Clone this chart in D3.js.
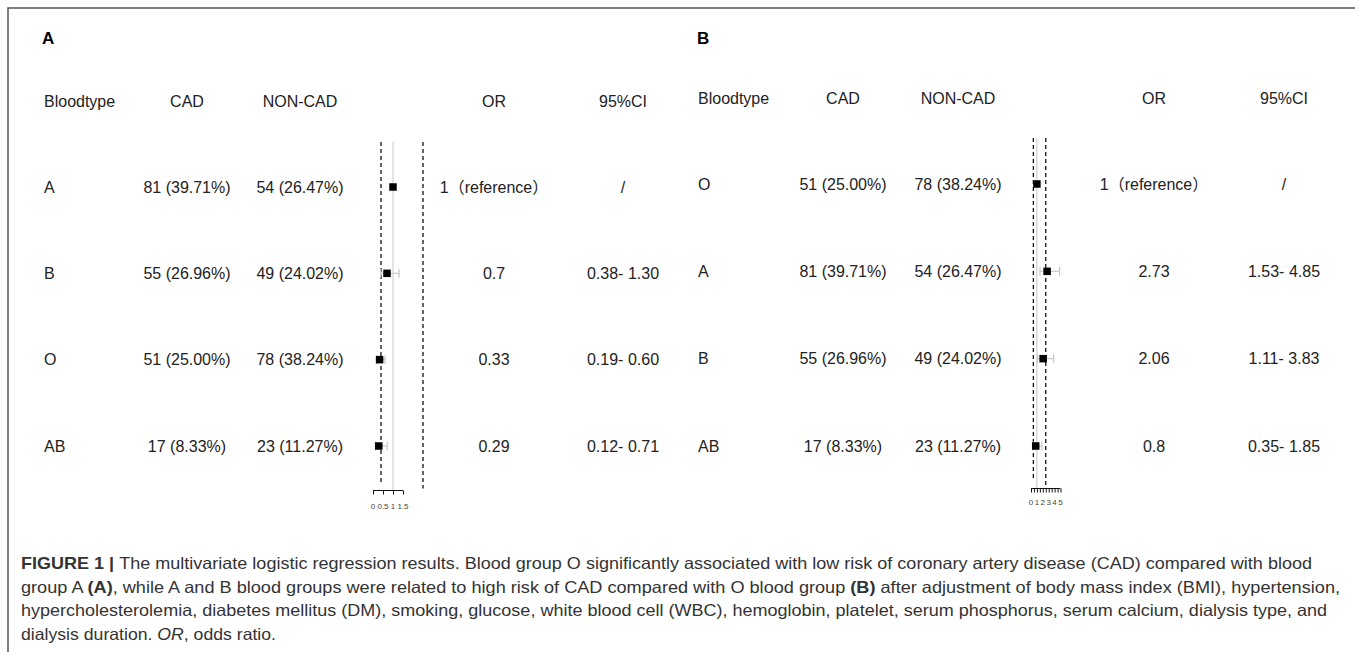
<!DOCTYPE html>
<html>
<head>
<meta charset="utf-8">
<script src="https://cdn.jsdelivr.net/npm/d3@7"></script>
<style>
body { margin: 0; background: #fff; }
text { font-family: "Liberation Sans", Arial, "Noto Sans CJK SC", sans-serif; fill: #222; }
</style>
</head>
<body>
<script>
// ---- data ----
var headers = ["Bloodtype", "CAD", "NON-CAD", "OR", "95%CI"];

var typesA = ["A", "B", "O", "AB"];
var cadA = ["81 (39.71%)", "55 (26.96%)", "51 (25.00%)", "17 (8.33%)"];
var nonA = ["54 (26.47%)", "49 (24.02%)", "78 (38.24%)", "23 (11.27%)"];
var orA = [1, 0.7, 0.33, 0.29];
var loA = [null, 0.38, 0.19, 0.12];
var hiA = [null, 1.30, 0.60, 0.71];
var orTextA = ["1（reference）", "0.7", "0.33", "0.29"];
var ciTextA = ["/", "0.38- 1.30", "0.19- 0.60", "0.12- 0.71"];
var ticksA = [0, 0.5, 1, 1.5];
var tickLabelsA = ["0", "0.5", "1", "1.5"];

var typesB = ["O", "A", "B", "AB"];
var cadB = ["51 (25.00%)", "81 (39.71%)", "55 (26.96%)", "17 (8.33%)"];
var nonB = ["78 (38.24%)", "54 (26.47%)", "49 (24.02%)", "23 (11.27%)"];
var orB = [1, 2.73, 2.06, 0.8];
var loB = [null, 1.53, 1.11, 0.35];
var hiB = [null, 4.85, 3.83, 1.85];
var orTextB = ["1（reference）", "2.73", "2.06", "0.8"];
var ciTextB = ["/", "1.53- 4.85", "1.11- 3.83", "0.35- 1.85"];
var ticksB = [0, 0.5, 1, 1.5, 2, 2.5, 3, 3.5, 4, 4.5, 5];
var tickLabelsB = ["0", "1", "2", "3", "4", "5"];

// reference lines: solid at OR = 1, dashed guide lines
var refLine = 1;
var dashLines = [0.4, 2.5];

var svg = d3.select("body").append("svg")
.attr("width", 1355)
.attr("height", 652);

// figure frame (top + left)
svg.append("path")
.attr("d", "M8,652V8H1355")
.attr("fill", "none")
.attr("stroke", "#555")
.attr("stroke-width", 1.5);

function panel(o) {
  var g = svg.append("g");
  var x = d3.scaleLinear().domain(o.domain).range(o.range);
  var y = d3.scalePoint().domain(d3.range(o.types.length)).range(o.rows);

  g.append("text")
  .attr("x", o.labelX).attr("y", 38)
  .attr("dominant-baseline", "central")
  .attr("font-weight", "bold")
  .attr("font-size", 17)
  .style("fill", "#000")
  .text(o.label);

  // header row
  g.selectAll(".hd").data(headers).enter().append("text")
  .attr("x", function(d, i) { return o.cols[i]; })
  .attr("y", o.headY)
  .attr("dominant-baseline", "central")
  .attr("text-anchor", function(d, i) { return i == 0 ? "start" : "middle"; })
  .attr("font-size", 16)
  .text(function(d) { return d; });

  var cols = [o.types, o.cad, o.non, o.orText, o.ciText];
  cols.forEach(function(col, c) {
    g.selectAll(".c" + c).data(col).enter().append("text")
    .attr("x", o.cols[c])
    .attr("y", function(d, i) { return y(i); })
    .attr("dominant-baseline", "central")
    .attr("text-anchor", c == 0 ? "start" : "middle")
    .attr("font-size", 16)
    .text(function(d) { return d; });
  });

  // solid reference line
  g.append("line")
  .attr("x1", x(refLine)).attr("x2", x(refLine))
  .attr("y1", o.top).attr("y2", o.axisY)
  .attr("stroke", "#c8c8c8")
  .attr("stroke-width", 1);

  // dashed guide lines
  g.selectAll(".dash").data(dashLines).enter().append("line")
  .attr("x1", function(d) { return x(d); })
  .attr("x2", function(d) { return x(d); })
  .attr("y1", o.top)
  .attr("y2", function(d, i) { return i == 0 ? o.axisY - 8 : o.axisY - 2; })
  .attr("stroke", "#111")
  .attr("stroke-width", 1.3)
  .attr("stroke-dasharray", "4,3");

  // confidence intervals
  var ci = o.lo.map(function(d, i) { return { lo: d, hi: o.hi[i], i: i }; })
  .filter(function(d) { return d.lo != null; });

  g.selectAll(".ci").data(ci).enter().append("line")
  .attr("x1", function(d) { return x(d.lo); })
  .attr("x2", function(d) { return x(d.hi); })
  .attr("y1", function(d) { return y(d.i); })
  .attr("y2", function(d) { return y(d.i); })
  .attr("stroke", "#c8c8c8")
  .attr("stroke-width", 1.2);

  ["lo", "hi"].forEach(function(k) {
    g.selectAll(".cap" + k).data(ci).enter().append("line")
    .attr("x1", function(d) { return x(d[k]); })
    .attr("x2", function(d) { return x(d[k]); })
    .attr("y1", function(d) { return y(d.i) - 4.5; })
    .attr("y2", function(d) { return y(d.i) + 4.5; })
    .attr("stroke", "#c8c8c8")
    .attr("stroke-width", 1.2);
  });

  // point estimates
  g.selectAll(".pt").data(o.or).enter().append("rect")
  .attr("x", function(d) { return x(d) - 3.75; })
  .attr("y", function(d, i) { return y(i) - 3.75; })
  .attr("width", 7.5)
  .attr("height", 7.5)
  .attr("fill", "#000");

  // axis
  var axis = d3.axisBottom(x)
  .tickValues(o.ticks)
  .tickSize(4)
  .tickFormat("");
  var ax = g.append("g")
  .attr("transform", "translate(0," + o.axisY + ")")
  .call(axis);
  ax.select(".domain").attr("d", "M" + o.range[0] + ",0H" + o.range[1]).attr("stroke", "#111");
  ax.selectAll(".tick line").attr("stroke", "#111");

  g.selectAll(".tl").data(o.tickLabels).enter().append("text")
  .attr("x", function(d) { return x(+d); })
  .attr("y", o.axisY + o.labelOff)
  .attr("dominant-baseline", "central")
  .attr("text-anchor", "middle")
  .attr("font-size", 8)
  .style("fill", "#444")
  .text(function(d) { return d; });
}

panel({
  label: "A", labelX: 42, headY: 101,
  cols: [44, 187, 300, 494, 623],
  rows: [187, 446], top: 142, axisY: 490.5, labelOff: 16,
  domain: [0, 1.5], range: [373, 403],
  types: typesA, cad: cadA, non: nonA, orText: orTextA, ciText: ciTextA,
  or: orA, lo: loA, hi: hiA, ticks: ticksA, tickLabels: tickLabelsA
});

panel({
  label: "B", labelX: 697, headY: 98,
  cols: [698, 843, 958, 1154, 1284],
  rows: [184, 446], top: 138, axisY: 488.5, labelOff: 14,
  domain: [0, 5], range: [1031, 1060.5],
  types: typesB, cad: cadB, non: nonB, orText: orTextB, ciText: ciTextB,
  or: orB, lo: loB, hi: hiB, ticks: ticksB, tickLabels: tickLabelsB
});

// caption
var caption = [
  { w: 1291, parts: [["FIGURE 1 | ", "b"], ["The multivariate logistic regression results. Blood group O significantly associated with low risk of coronary artery disease (CAD) compared with blood", ""]] },
  { w: 1319, parts: [["group A ", ""], ["(A)", "b"], [", while A and B blood groups were related to high risk of CAD compared with O blood group ", ""], ["(B)", "b"], [" after adjustment of body mass index (BMI), hypertension,", ""]] },
  { w: 1306, parts: [["hypercholesterolemia, diabetes mellitus (DM), smoking, glucose, white blood cell (WBC), hemoglobin, platelet, serum phosphorus, serum calcium, dialysis type, and", ""]] },
  { w: 255, parts: [["dialysis duration. ", ""], ["OR", "i"], [", odds ratio.", ""]] }
];
var cap = svg.append("text")
.attr("font-size", 16.5)
.style("fill", "#333");
caption.forEach(function(line, li) {
  var t = cap.append("tspan")
  .attr("x", 21)
  .attr("y", 569 + li * 23.7)
  .attr("textLength", line.w)
  .attr("lengthAdjust", "spacingAndGlyphs");
  line.parts.forEach(function(p) {
    t.append("tspan")
    .attr("font-weight", p[1] == "b" ? "bold" : null)
    .attr("font-style", p[1] == "i" ? "italic" : null)
    .text(p[0]);
  });
});
</script>
</body>
</html>
